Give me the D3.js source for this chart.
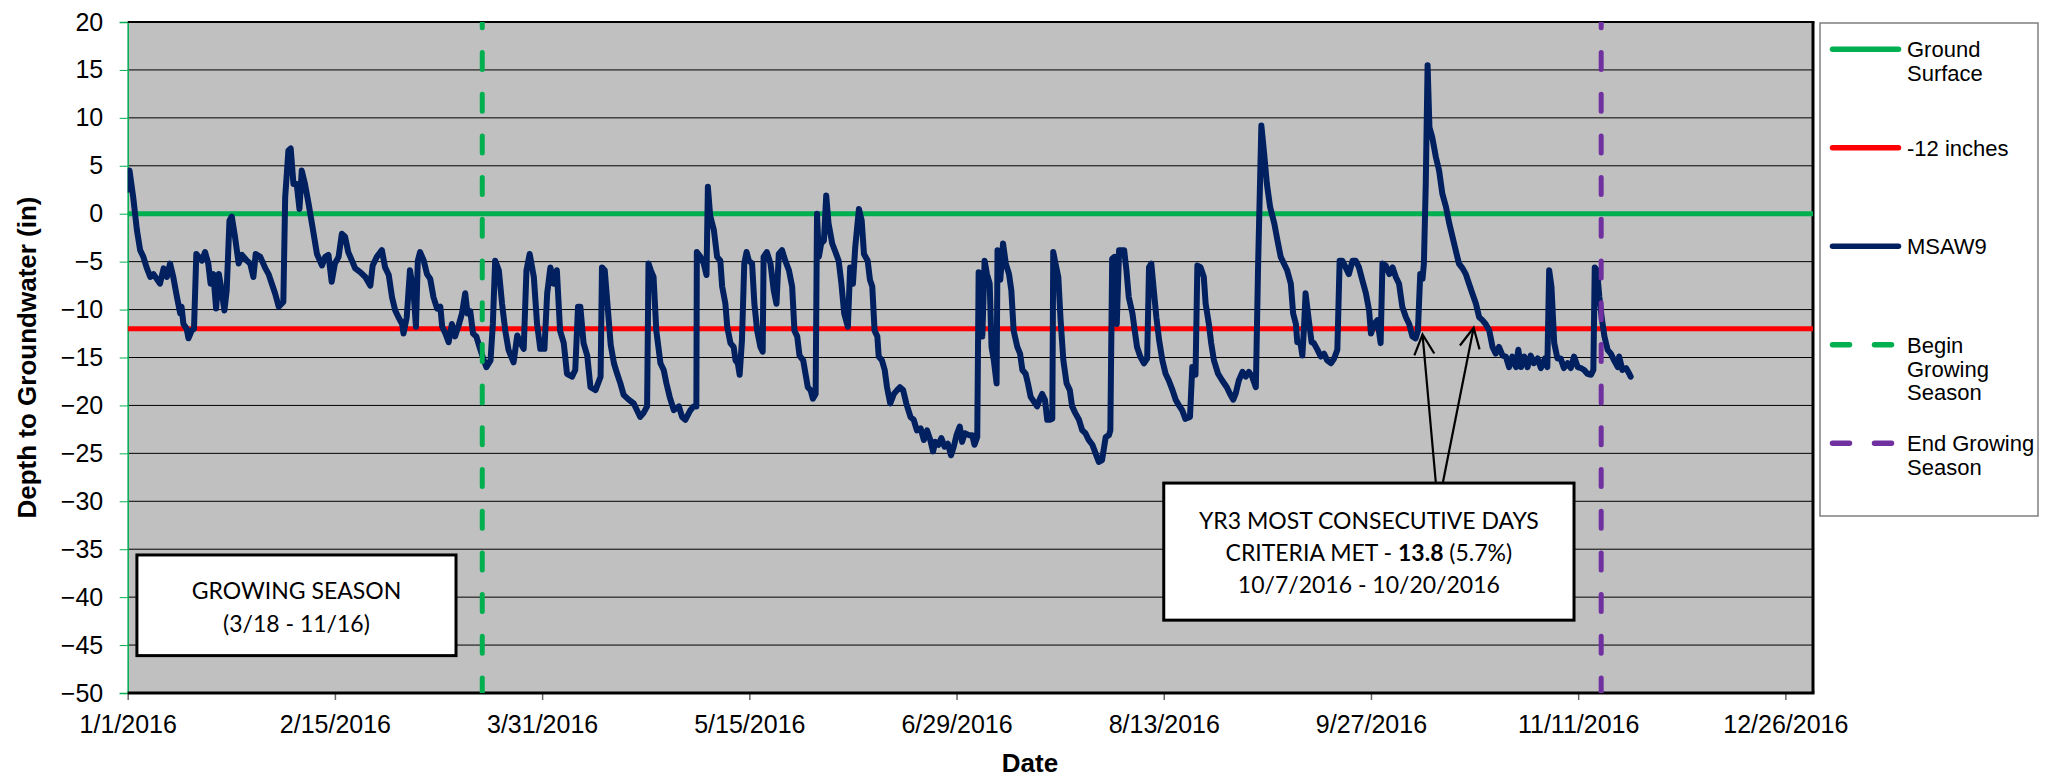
<!DOCTYPE html>
<html>
<head>
<meta charset="utf-8">
<script src="https://cdn.jsdelivr.net/npm/d3@7"></script>
<style>
	body { margin: 0; background: #fff; }
	svg { display: block; font-family: "Liberation Sans", Arial, sans-serif; }
	.box-text { font-family: Lato, "Noto Sans", sans-serif; font-size: 23px; }
</style>
</head>
<body>
<svg id="chart" width="2049" height="777"></svg>
<script>
// axis setup
const startDate = new Date(2016, 0, 1);
const endDate = new Date(2017, 0, 1);
const xTickDays = [0, 45, 90, 135, 180, 225, 270, 315, 360];
const yTicks = [20, 15, 10, 5, 0, -5, -10, -15, -20, -25, -30, -35, -40, -45, -50];

// reference lines
const groundSurface = 0;
const criteriaDepth = -12;
const seasonStart = new Date(2016, 2, 18);
const seasonEnd = new Date(2016, 10, 16);

const legendNames = [["Ground", "Surface"], ["-12 inches"], ["MSAW9"],
	["Begin", "Growing", "Season"], ["End Growing", "Season"]];

// MSAW9 readings: [days since 1/1/2016, depth in inches]
const msaw9 = [
	[0, 2.5], [0.4, 4.5], [1.2, 1.7], [2, -1.7], [2.7, -3.8], [3.4, -4.5], [4.1, -5.6], [4.9, -6.6],
	[5.6, -6.3], [6.3, -6.8], [7, -7.3], [7.8, -5.7], [8.5, -6.6], [9.2, -5.2], [9.9, -6.6], [10.7, -8.7],
	[11.4, -10.4], [11.7, -9.7], [12.1, -11.5], [12.8, -12], [13.2, -13], [13.9, -12.2], [14.4, -12],
	[14.9, -4.2], [15.4, -4.5], [16.1, -4.9], [16.8, -4], [17.5, -5.2], [18, -7.3], [18.6, -6.3],
	[19.2, -9.9], [19.8, -6.3], [20.4, -8], [21, -10.1], [21.5, -8], [22.1, -0.7], [22.6, -0.3],
	[23.3, -2.4], [24.1, -5.2], [24.8, -4.3], [25.9, -4.9], [26.6, -5.2], [27.3, -6.6], [27.8, -4.2],
	[28.8, -4.5], [29.9, -5.7], [30.6, -6.3], [31.3, -7.3], [32, -8.3], [32.8, -9.7], [33.8, -9.2],
	[34.2, 1.7], [34.9, 6.6], [35.4, 6.8], [36, 3.1], [36.7, 3.1], [37.3, 0.5], [37.8, 4.5], [38.5, 3.1],
	[39.3, 1], [40, -1], [41.1, -4.2], [42.2, -5.4], [42.9, -4.5], [43.6, -4.3], [44.3, -7.1], [45, -5.2],
	[45.8, -4.5], [46.5, -2.1], [47.2, -2.4], [47.9, -4], [48.7, -4.9], [49.4, -5.7], [50.5, -6.1],
	[51.6, -6.6], [52.7, -7.5], [53.2, -5.4], [54.1, -4.5], [55.2, -3.8], [55.9, -5.6], [56.7, -6.4],
	[57.4, -8.7], [58.1, -10.1], [58.8, -10.8], [59.6, -11.5], [59.9, -12.5], [60.6, -10.8], [61.3, -5.9],
	[62.1, -8.3], [62.6, -11.8], [63, -4.9], [63.5, -4], [64.3, -4.9], [65, -6.3], [65.7, -6.8],
	[66.4, -8.7], [67.2, -9.9], [67.9, -9.7], [68.3, -11.8], [69, -12.5], [69.7, -13.4], [70.4, -11.5],
	[71.1, -12.8], [71.9, -11.6], [72.6, -10.4], [73.3, -8.3], [73.8, -10.4], [74.4, -10.2], [75, -12.5],
	[75.7, -12.8], [76.4, -13.9], [77.2, -15.1], [77.9, -16], [78.8, -15.3], [79.3, -11.5], [79.8, -4.9],
	[80.6, -5.9], [81.3, -9.4], [82, -12.2], [82.7, -14.2], [83.8, -15.5], [84.6, -12.7], [85.3, -13.5],
	[86, -14.1], [86.6, -5.9], [87.3, -4.2], [88.2, -6.6], [88.9, -11.5], [89.6, -14.1], [90.5, -14.1],
	[91.1, -8.3], [91.8, -5.6], [92.5, -7.3], [93.2, -5.9], [93.9, -12.2], [94.7, -13.5], [95.4, -16.7],
	[96.5, -17], [97.2, -16.3], [97.8, -9.7], [98.3, -9.7], [99, -13.5], [99.8, -14.8], [100.5, -18.1],
	[101.6, -18.4], [102.7, -17], [103, -5.6], [103.6, -5.9], [104.3, -10.1], [104.9, -13.7],
	[105.6, -15.6], [106.3, -16.7], [107, -17.7], [107.7, -18.9], [108.8, -19.4], [109.9, -19.8],
	[110.6, -20.5], [111.3, -21.2], [112, -20.8], [112.8, -20.1], [113.1, -5.2], [113.6, -5.9],
	[114.2, -6.6], [114.8, -12.2], [115.7, -15.6], [116.4, -16.3], [117, -17.7], [117.7, -19.1],
	[118.6, -20.5], [119.7, -20.1], [120.4, -21.2], [121.1, -21.5], [122.2, -20.5], [122.9, -20.1],
	[123.5, -20.1], [123.6, -4], [124.4, -4.5], [125.1, -5.2], [125.7, -6.4], [126, 2.8], [126.5, -0.2],
	[127.3, -1.7], [128, -4.5], [128.7, -4.9], [129.1, -7.6], [129.8, -9.4], [130.2, -11.8], [130.9, -13.5],
	[131.6, -13.9], [132, -15.3], [132.5, -15.6], [132.9, -16.8], [133.4, -13.2], [133.9, -5.2],
	[134.4, -4], [134.9, -4.9], [135.6, -5.2], [136.1, -9.4], [136.7, -12.2], [137.4, -13.9],
	[137.9, -14.4], [138.1, -4.5], [138.8, -4], [139.6, -5.2], [140.3, -8], [140.9, -9.4], [141.4, -4.2],
	[142.1, -3.8], [142.8, -4.9], [143.6, -5.9], [144.3, -7.6], [144.8, -12.2], [145.4, -12.8],
	[145.9, -14.8], [146.7, -15.3], [147.2, -16.7], [147.7, -18.1], [148.3, -18.4], [148.8, -19.3],
	[149.4, -18.8], [149.7, 0], [150.1, -4.5], [150.6, -3.1], [151.2, -2.8], [151.7, 1.9], [152.2, -1],
	[153, -3.1], [153.7, -4], [154.4, -4.9], [155, -7.3], [155.6, -10.4], [156.4, -11.8], [156.9, -5.6],
	[157.5, -7.3], [158, -3.5], [158.8, 0.5], [159.4, -0.7], [159.9, -4.2], [160.7, -4.9], [161.2, -6.9],
	[161.7, -7.6], [162.2, -12.2], [162.8, -12.8], [163.1, -14.9], [163.8, -15.3], [164.4, -16.3],
	[164.9, -18.1], [165.6, -19.8], [166.4, -18.8], [167.1, -18.4], [167.7, -18.1], [168.4, -18.4],
	[169.1, -19.8], [170, -21.2], [170.7, -21.5], [171.4, -22.6], [172.2, -22.4], [172.9, -23.6],
	[173.6, -22.6], [174.3, -23.6], [174.9, -24.8], [175.4, -23.8], [176.1, -24.1], [176.7, -23.4],
	[177.4, -24.3], [178.1, -24], [178.8, -25.2], [179.4, -24.3], [180, -23.1], [180.7, -22.2],
	[181.2, -23.8], [181.8, -22.9], [182.7, -23.1], [183.4, -23.1], [183.9, -24.1], [184.5, -23.3],
	[184.8, -6.1], [185.2, -6.3], [185.6, -12.8], [186.1, -4.9], [186.6, -6.3], [187.2, -7.3],
	[187.6, -13.9], [188.1, -15.3], [188.7, -17.7], [188.9, -3.8], [189.5, -6.9], [190.1, -3.1],
	[190.7, -5.2], [191.4, -6.3], [191.9, -8], [192.4, -12.2], [193.2, -13.9], [193.8, -14.6],
	[194.3, -16.3], [195, -16.7], [195.5, -17.7], [196.1, -19.1], [196.8, -19.6], [197.5, -20.1],
	[198.1, -19.3], [198.6, -18.8], [199.2, -19.4], [199.7, -21.5], [200.3, -21.5], [200.8, -21.4],
	[201, -4], [201.5, -5.2], [202.1, -6.6], [202.6, -11.1], [203.2, -15.3], [203.9, -17.7],
	[204.6, -18.4], [205.1, -20.1], [205.8, -20.8], [206.6, -21.5], [207.3, -22.6], [208, -22.9],
	[208.7, -23.6], [209.5, -24.1], [210.2, -25], [210.9, -25.9], [211.6, -25.7], [212.4, -23.3],
	[213.1, -23.1], [213.4, -22.6], [213.8, -4.7], [214.3, -4.5], [214.8, -11.5], [215.3, -3.8],
	[215.8, -3.8], [216.4, -3.8], [216.9, -5.9], [217.4, -8.7], [218.2, -10.4], [218.7, -12.2],
	[219.2, -13.9], [219.9, -14.9], [220.7, -15.6], [221.4, -15.1], [221.8, -5.6], [222.3, -5.2],
	[222.9, -8.3], [223.4, -10.8], [224, -13.2], [224.7, -15.3], [225.4, -16.7], [226.1, -17.4],
	[226.9, -18.4], [227.6, -19.4], [228.3, -20], [229, -20.5], [229.7, -21.4], [230.7, -21.2],
	[231.2, -16], [231.9, -16.8], [232.3, -5.4], [233, -5.6], [233.7, -6.6], [234.1, -9.4], [234.8, -11.5],
	[235.3, -13.5], [235.9, -15.3], [236.8, -16.7], [237.7, -17.4], [238.7, -18.1], [239.4, -18.8],
	[240.1, -19.4], [240.6, -18.8], [241.3, -17.4], [242.1, -16.5], [242.8, -17], [243.5, -16.5],
	[244.2, -17], [245, -18.1], [245.5, -5.2], [246.2, 9.2], [246.8, 6.3], [247.4, 3.1], [248.1, 0.7],
	[249, -1], [249.7, -2.8], [250.4, -4.5], [251.3, -5.4], [251.8, -5.9], [252.6, -7.3], [253.1, -10.4],
	[253.7, -11.5], [254, -13.4], [254.7, -13.5], [255.1, -14.8], [255.5, -11.5], [255.8, -8.3],
	[256.5, -11.1], [257.1, -13.4], [257.6, -13.5], [258.4, -14.2], [259.1, -14.9], [259.8, -14.6],
	[260.5, -15.3], [261.3, -15.6], [262, -15.1], [262.7, -14.2], [263.2, -4.9], [263.8, -4.9],
	[264.5, -5.6], [265.2, -6.3], [266, -4.9], [266.7, -4.9], [267.4, -5.6], [268.1, -6.9], [268.9, -8.3],
	[269.6, -10.1], [270, -12.5], [270.7, -11.5], [271.4, -11.1], [272.1, -13.5], [272.5, -5.2],
	[273.2, -5.4], [274, -6.3], [274.7, -5.6], [275.4, -6.6], [276.1, -7.3], [276.8, -9.7], [277.6, -10.8],
	[278.3, -11.5], [279, -12.8], [279.7, -13], [280.2, -12.2], [280.7, -6.3], [281.2, -6.8],
	[281.5, -5.2], [281.9, 3.1], [282.3, 15.5], [282.7, 9], [283.3, 8], [284.1, 5.9], [284.8, 4.5],
	[285.5, 2.1], [286.3, 0.7], [287, -1], [287.7, -2.4], [288.4, -3.8], [289.1, -5.2], [289.9, -5.7],
	[290.6, -6.3], [291.3, -7.3], [292, -8.3], [292.8, -9.4], [293.5, -10.8], [294.2, -11.1],
	[294.9, -11.5], [295.7, -12.2], [296.4, -13.9], [297.1, -14.6], [297.8, -13.9], [298.6, -14.8],
	[299.3, -14.9], [300, -16], [300.7, -14.9], [301.5, -16], [302, -14.2], [302.6, -16], [303.3, -14.9],
	[304, -16], [304.7, -14.8], [305.4, -15.6], [306.2, -15.1], [306.9, -16.1], [307.8, -15.1],
	[308.3, -16], [308.7, -5.9], [309.2, -7.6], [309.8, -13.5], [310.5, -15.1], [311.2, -15.1],
	[311.9, -16.1], [312.7, -15.6], [313.4, -16.1], [314.1, -14.9], [314.9, -16], [315.6, -16.1],
	[316.3, -16.3], [317, -16.7], [317.8, -16.8], [318.3, -16.3], [318.6, -5.6], [319.1, -5.9],
	[319.6, -8.7], [320.1, -10.8], [320.7, -12.8], [321.4, -14.2], [322.1, -14.6], [322.8, -15.3],
	[323.6, -16], [323.9, -14.9], [324.6, -16.3], [325.4, -16.1], [326.1, -16.7], [326.4, -17]
];

// annotation anchors, in [day, depth]
const criteriaTips = [[281.2, -12.6], [292.3, -11.9]];
const criteriaTails = [[284.1, -28.1], [285.6, -28.1]];

const width = 2049, height = 777;
const margin = {top: 22, right: 236, bottom: 84, left: 127.7};

function dayToDate(d) {
	return new Date(startDate.getTime() + d * 864e5);
}

const svg = d3.select("#chart");

const x = d3.scaleTime()
	.domain([startDate, endDate])
	.range([margin.left, width - margin.right]);

const y = d3.scaleLinear()
	.domain([-50, 20])
	.range([height - margin.bottom, margin.top]);

const plotL = x.range()[0], plotR = x.range()[1];
const plotT = y.range()[1], plotB = y.range()[0];

svg.append("defs").append("clipPath").attr("id", "plot-clip")
	.append("rect")
	.attr("x", plotL).attr("y", plotT)
	.attr("width", plotR - plotL).attr("height", plotB - plotT);

// plot background and grid
svg.append("rect")
	.attr("x", plotL).attr("y", plotT)
	.attr("width", plotR - plotL).attr("height", plotB - plotT)
	.attr("fill", "#c0c0c0");

svg.append("g").selectAll("line")
	.data(yTicks.filter(v => v > -50 && v < 20))
	.join("line")
	.attr("x1", plotL).attr("x2", plotR)
	.attr("y1", d => y(d)).attr("y2", d => y(d))
	.attr("stroke", "#000").attr("stroke-width", 1);

// axes
const yAxis = d3.axisLeft(y).tickValues(yTicks).tickSize(8).tickPadding(16.5);
const gy = svg.append("g")
	.attr("transform", `translate(${plotL},0)`)
	.call(yAxis);
gy.select(".domain").attr("stroke", "#00b050").attr("stroke-width", 1.5);
gy.selectAll(".tick line").attr("stroke", "#00b050");
gy.selectAll(".tick text").attr("font-size", 25).attr("fill", "#000")
	.attr("font-family", "'Liberation Sans', Arial, sans-serif");

const xAxis = d3.axisBottom(x)
	.tickValues(xTickDays.map(d => d3.timeDay.offset(startDate, d)))
	.tickFormat(d3.timeFormat("%-m/%-d/%Y"))
	.tickSize(7).tickPadding(15);
const gx = svg.append("g")
	.attr("transform", `translate(0,${plotB})`)
	.call(xAxis);
gx.select(".domain").remove();
gx.selectAll(".tick line").attr("stroke", "#666").attr("stroke-width", 1.5);
gx.selectAll(".tick text").attr("font-size", 25).attr("fill", "#000")
	.attr("font-family", "'Liberation Sans', Arial, sans-serif");

// plot border (top, right, bottom)
svg.append("line").attr("x1", plotL).attr("x2", plotR + 1.5).attr("y1", plotT).attr("y2", plotT)
	.attr("stroke", "#000").attr("stroke-width", 2);
svg.append("line").attr("x1", plotR).attr("x2", plotR).attr("y1", plotT).attr("y2", plotB)
	.attr("stroke", "#000").attr("stroke-width", 3);
svg.append("line").attr("x1", plotL).attr("x2", plotR + 1.5).attr("y1", plotB).attr("y2", plotB)
	.attr("stroke", "#000").attr("stroke-width", 3);

// series
const seriesStyle = [
	{color: "#00b050", dash: null},
	{color: "#ff0000", dash: null},
	{color: "#002060", dash: null},
	{color: "#00b050", dash: "17,24.7"},
	{color: "#7030a0", dash: "17,24.7"}
];

const plot = svg.append("g").attr("clip-path", "url(#plot-clip)");

[groundSurface, criteriaDepth].forEach((v, i) => {
	plot.append("line")
		.attr("x1", plotL).attr("x2", plotR)
		.attr("y1", y(v)).attr("y2", y(v))
		.attr("stroke", seriesStyle[i].color).attr("stroke-width", 5);
});

const line = d3.line()
	.x(d => x(dayToDate(d[0])))
	.y(d => y(d[1]));

plot.append("path")
	.attr("d", line(msaw9))
	.attr("fill", "none")
	.attr("stroke", seriesStyle[2].color)
	.attr("stroke-width", 6)
	.attr("stroke-linejoin", "round")
	.attr("stroke-linecap", "round");

[seasonStart, seasonEnd].forEach((d, i) => {
	plot.append("line")
		.attr("x1", x(d)).attr("x2", x(d))
		.attr("y1", y(20)).attr("y2", y(-50))
		.attr("stroke", seriesStyle[3 + i].color)
		.attr("stroke-width", 5)
		.attr("stroke-linecap", "round")
		.attr("stroke-dasharray", seriesStyle[3 + i].dash)
		.attr("stroke-dashoffset", 11.2);
});

// text boxes
function textBox(d0, d1, v0, v1) {
	const bx = x(dayToDate(d0)), by = y(v0);
	svg.append("rect")
		.attr("x", bx).attr("y", by)
		.attr("width", x(dayToDate(d1)) - bx).attr("height", y(v1) - by)
		.attr("fill", "#fff").attr("stroke", "#000").attr("stroke-width", 3);
	return (x(dayToDate(d0)) + x(dayToDate(d1))) / 2;
}

const gsCx = textBox(2, 71.3, -35.6, -46.1);
const gsText = svg.append("text").attr("class", "box-text").attr("text-anchor", "middle");
gsText.append("tspan").attr("x", gsCx).attr("y", y(-35.6) + 44).text("GROWING SEASON");
gsText.append("tspan").attr("x", gsCx).attr("y", y(-35.6) + 77).text("(3/18 - 11/16)");

// criteria arrows
criteriaTips.forEach((tip, i) => {
	const tx = x(dayToDate(tip[0])), ty = y(tip[1]);
	const sx = x(dayToDate(criteriaTails[i][0])), sy = y(criteriaTails[i][1]);
	const len = Math.hypot(sx - tx, sy - ty);
	const ux = (sx - tx) / len, uy = (sy - ty) / len;
	const g = svg.append("g").attr("stroke", "#000").attr("stroke-width", 2.2).attr("fill", "none");
	g.append("line").attr("x1", sx).attr("y1", sy).attr("x2", tx).attr("y2", ty);
	g.append("path").attr("d", d3.line()([
		[tx + ux * 20 - uy * 10, ty + uy * 20 + ux * 10],
		[tx, ty],
		[tx + ux * 20 + uy * 10, ty + uy * 20 - ux * 10]
	]));
});

const crCx = textBox(225.0, 314.1, -28.1, -42.4);
const crText = svg.append("text").attr("class", "box-text").attr("text-anchor", "middle");
const crTop = y(-28.1);
crText.append("tspan").attr("x", crCx).attr("y", crTop + 46).text("YR3 MOST CONSECUTIVE DAYS");
const mid = crText.append("tspan").attr("x", crCx).attr("y", crTop + 78);
mid.append("tspan").text("CRITERIA MET - ");
mid.append("tspan").attr("font-weight", "bold").text("13.8");
mid.append("tspan").text(" (5.7%)");
crText.append("tspan").attr("x", crCx).attr("y", crTop + 110).text("10/7/2016 - 10/20/2016");

// axis titles
svg.append("text")
	.attr("transform", `translate(36,${(plotT + plotB) / 2}) rotate(-90)`)
	.attr("text-anchor", "middle")
	.attr("font-weight", "bold").attr("font-size", 26)
	.text("Depth to Groundwater (in)");

svg.append("text")
	.attr("x", 1030).attr("y", 772)
	.attr("text-anchor", "middle")
	.attr("font-weight", "bold").attr("font-size", 26)
	.text("Date");

// legend
const legend = svg.append("g").attr("transform", "translate(1820,23)");
legend.append("rect")
	.attr("width", 218).attr("height", 493)
	.attr("fill", "#fff").attr("stroke", "#7f7f7f").attr("stroke-width", 1.5);

legendNames.forEach((name, i) => {
	const ly = 26.3 + i * 98.5;
	const st = seriesStyle[i];
	legend.append("line")
		.attr("x1", 12.5).attr("x2", st.dash ? 72.5 : 78.5)
		.attr("y1", ly).attr("y2", ly)
		.attr("stroke", st.color).attr("stroke-width", 5.5)
		.attr("stroke-linecap", "round")
		.attr("stroke-dasharray", st.dash ? "17,25" : null);
	const t = legend.append("text").attr("font-size", 22).attr("fill", "#000");
	name.forEach((s, k) => {
		t.append("tspan").attr("x", 87).attr("y", ly + 8 + k * 23.7).text(s);
	});
});
</script>
</body>
</html>
